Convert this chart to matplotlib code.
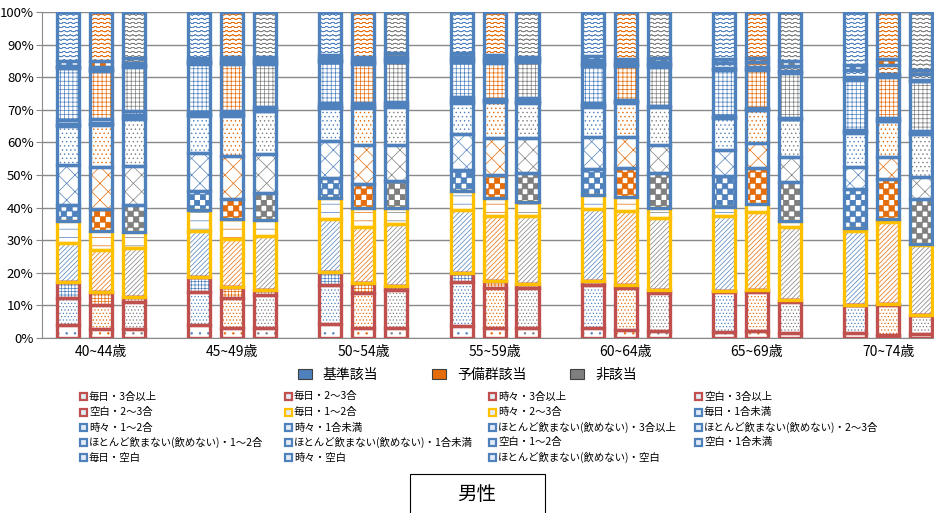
import numpy as np
import matplotlib
matplotlib.use('Agg')
import matplotlib.pyplot as plt
import matplotlib.hatch as mhatch
from matplotlib.path import Path
from matplotlib.patches import Rectangle
from matplotlib.ticker import PercentFormatter

plt.rcParams['font.family'] = ['Noto Sans CJK JP', 'DejaVu Sans']
plt.rcParams['hatch.linewidth'] = 0.5

# DATA

ages = ['40~44歳', '45~49歳', '50~54歳', '55~59歳', '60~64歳', '65~69歳', '70~74歳']
series_names = ['基準該当', '予備群該当', '非該当']
categories = ['毎日・3合以上', '毎日・2～3合', '時々・3合以上', '空白・3合以上',
              '空白・2～3合', '毎日・1～2合', '時々・2～3合', '毎日・1合未満',
              '時々・1～2合', '時々・1合未満', 'ほとんど飲まない(飲めない)・3合以上',
              'ほとんど飲まない(飲めない)・2～3合', 'ほとんど飲まない(飲めない)・1～2合',
              'ほとんど飲まない(飲めない)・1合未満', '空白・1～2合', '空白・1合未満',
              '毎日・空白', '時々・空白', 'ほとんど飲まない(飲めない)・空白']

# percent per category (rows = age groups)
kijun = [
    [4.1, 8.2, 5.0, 0, 0, 11.8, 6.9, 4.9, 12.2, 11.9, 0.3, 0.5, 1.2, 15.7, 0.2, 0.3, 0.4, 1.4, 15.0],
    [4.0, 10.1, 4.6, 0, 0, 14.2, 6.4, 5.8, 11.7, 11.2, 0.3, 0.4, 0.5, 14.8, 0.3, 0.3, 0.4, 0.8, 14.2],
    [4.2, 12.2, 3.8, 0, 0, 16.3, 6.6, 6.1, 11.2, 10.1, 0.3, 0.4, 0.8, 12.8, 0.3, 0.3, 0.5, 0.9, 13.2],
    [3.7, 13.5, 2.7, 0, 0, 19.4, 5.8, 6.6, 11.0, 9.3, 0.4, 0.5, 0.9, 11.0, 0.4, 0.5, 0.6, 1.0, 12.7],
    [3.0, 13.4, 1.0, 0, 0, 22.2, 4.3, 7.9, 9.8, 9.4, 0.3, 0.3, 0.4, 11.5, 0.5, 0.5, 0.8, 1.2, 13.5],
    [2.0, 12.0, 0.3, 0, 0, 23.0, 2.8, 9.7, 7.8, 9.9, 0.1, 0.1, 0.3, 14.2, 0.3, 0.3, 1.5, 1.2, 14.5],
    [1.5, 8.5, 0.2, 0, 0, 22.7, 1.0, 11.7, 7.0, 10.3, 0.2, 0.2, 0.6, 15.3, 0.4, 0.5, 2.0, 1.6, 16.3],
]
yobi = [
    [2.7, 7.5, 4.0, 0, 0, 12.9, 5.9, 6.6, 13.0, 12.9, 0.3, 0.5, 1.2, 14.7, 0.3, 0.3, 0.5, 1.8, 15.2],
    [3.2, 9.1, 3.3, 0, 0, 14.8, 6.1, 6.3, 13.2, 12.0, 0.3, 0.5, 0.7, 14.5, 0.3, 0.4, 0.5, 1.1, 13.7],
    [3.2, 10.7, 3.1, 0, 0, 17.2, 5.8, 7.2, 12.1, 11.2, 0.3, 0.4, 0.8, 12.2, 0.3, 0.3, 0.5, 1.0, 13.7],
    [3.0, 12.3, 2.3, 0, 0, 19.9, 5.6, 7.1, 11.5, 10.9, 0.3, 0.3, 0.4, 11.2, 0.4, 0.4, 0.5, 1.1, 13.2],
    [2.5, 12.9, 0.8, 0, 0, 22.9, 4.1, 8.9, 9.5, 10.5, 0.3, 0.3, 0.4, 10.5, 0.3, 0.4, 0.6, 0.8, 14.4],
    [2.2, 11.8, 0.7, 0, 0, 23.9, 2.5, 11.0, 7.8, 10.1, 0.1, 0.1, 0.3, 11.7, 0.4, 0.4, 1.8, 1.2, 14.0],
    [1.0, 9.0, 0.5, 0, 0, 25.2, 0.8, 12.2, 6.8, 11.0, 0.2, 0.2, 0.6, 12.7, 0.4, 0.4, 2.8, 1.8, 14.4],
]
higaitou = [
    [2.7, 8.5, 1.5, 0, 0, 15.0, 4.8, 8.4, 11.9, 14.5, 0.4, 0.6, 1.2, 13.7, 0.3, 0.4, 0.6, 1.3, 14.2],
    [3.2, 9.9, 1.5, 0, 0, 16.8, 4.8, 8.4, 11.9, 13.0, 0.3, 0.5, 0.7, 13.2, 0.3, 0.4, 0.5, 0.9, 13.7],
    [3.2, 11.4, 1.5, 0, 0, 18.9, 5.0, 8.2, 11.1, 11.7, 0.3, 0.4, 0.8, 12.3, 0.4, 0.4, 0.6, 1.3, 12.5],
    [3.2, 12.1, 1.3, 0, 0, 20.7, 4.3, 9.1, 10.7, 10.6, 0.3, 0.4, 0.8, 11.3, 0.3, 0.4, 0.5, 0.3, 13.7],
    [2.3, 11.7, 0.7, 0, 0, 22.4, 3.0, 10.7, 8.6, 11.7, 0.1, 0.2, 0.2, 12.1, 0.4, 0.4, 0.6, 1.2, 14.2],
    [1.5, 9.7, 0.5, 0, 0, 22.3, 1.8, 12.0, 7.6, 11.7, 0.1, 0.1, 0.2, 13.8, 0.3, 0.3, 1.7, 1.5, 14.9],
    [1.2, 5.8, 0.2, 0, 0, 21.2, 0.6, 13.7, 6.7, 13.1, 0.2, 0.2, 0.5, 15.3, 0.3, 0.3, 1.8, 1.0, 17.9],
]

# STYLE

series_cols = ['#4F81BD', '#E46C0A', '#7F7F7F']
RED, YEL, BLU = '#C0504D', '#FFC000', '#4F81BD'
border_cols = [RED] * 5 + [YEL] * 2 + [BLU] * 12
hatches = ['..', '.....', '+++++', '....', '....', '///////', '--', '***', 'xx', '....',
           '-----', '-----', '.....', '++++', '....', '....', 'oooo', '***', 'oooo']


# Excel-like patterns: 'o' -> wavy lines, '*' -> checkerboard

class WaveHatch(mhatch.HatchPatternBase):
    def __init__(self, hatch, density):
        self.num_rows = int(hatch.count('o') * density)
        self.num_pts = 16 * 6 + 1
        self.num_vertices = self.num_rows * (2 * self.num_pts - 1)

    def set_vertices_and_codes(self, vertices, codes):
        x = np.linspace(0, 1, self.num_pts)
        n = 2 * self.num_pts - 1
        for i in range(self.num_rows):
            y = (i + 0.5) / self.num_rows + 0.15 / self.num_rows * np.sin(2 * np.pi * 16 * x)
            xs = np.concatenate([x, x[-2::-1]])
            ys = np.concatenate([y, y[-2::-1]])
            vertices[i * n:(i + 1) * n, 0] = xs
            vertices[i * n:(i + 1) * n, 1] = ys
            codes[i * n:(i + 1) * n] = Path.LINETO
            codes[i * n] = Path.MOVETO


class CheckerHatch(mhatch.HatchPatternBase):
    def __init__(self, hatch, density):
        self.num_cells = int(hatch.count('*') * density / 2) * 2
        self.num_vertices = (self.num_cells ** 2 // 2) * 5

    def set_vertices_and_codes(self, vertices, codes):
        n = self.num_cells
        s = 1.0 / n
        k = 0
        for i in range(n):
            for j in range(n):
                if (i + j) % 2 == 0:
                    x0, y0 = i * s, j * s
                    vertices[k:k + 5] = [[x0, y0], [x0 + s, y0], [x0 + s, y0 + s], [x0, y0 + s], [x0, y0]]
                    codes[k:k + 5] = [Path.MOVETO, Path.LINETO, Path.LINETO, Path.LINETO, Path.CLOSEPOLY]
                    k += 5


mhatch._hatch_types[mhatch._hatch_types.index(mhatch.SmallCircles)] = WaveHatch
mhatch._hatch_types[mhatch._hatch_types.index(mhatch.Stars)] = CheckerHatch

# PLOT

fig = plt.figure(figsize=(9.34, 5.13), dpi=100)
ax = fig.add_axes([0.045, 0.341, 0.955, 0.6355])

x = np.arange(len(ages))
width = 0.168
offset = 0.251

for s, vals in enumerate([kijun, yobi, higaitou]):
    arr = np.array(vals, dtype=float)
    arr = arr / arr.sum(axis=1, keepdims=True) * 100
    xpos = x + (s - 1) * offset
    bottoms = np.hstack([np.zeros((len(ages), 1)), np.cumsum(arr, axis=1)[:, :-1]])
    for k in range(len(categories)):
        ax.bar(xpos, arr[:, k], width, bottom=bottoms[:, k], color='white',
               edgecolor=series_cols[s], hatch=hatches[k], linewidth=0, zorder=2)
    for k in range(len(categories)):
        ax.bar(xpos, arr[:, k], width, bottom=bottoms[:, k], fill=False,
               edgecolor=border_cols[k], linewidth=2.4, zorder=3)

ax.set_xlim(-0.45, 6.35)
ax.set_ylim(0, 100)
ax.set_yticks(np.arange(0, 101, 10))
ax.yaxis.set_major_formatter(PercentFormatter(decimals=0))
ax.set_xticks(x)
ax.set_xticklabels(ages, fontsize=10)
ax.tick_params(axis='x', length=0, pad=5)
ax.tick_params(axis='y', length=4, color='#898989', labelsize=9.5, pad=2)
ax.grid(axis='y', color='#898989', linewidth=1.0, zorder=0)
ax.set_axisbelow(True)
for side in ['top', 'right']:
    ax.spines[side].set_visible(False)
for side in ['left', 'bottom']:
    ax.spines[side].set_color('#898989')

# series legend
W, H = 934.0, 513.0
for name, col, px in zip(series_names, series_cols, [298, 432, 570]):
    fig.patches.append(Rectangle((px / W, 1 - 379 / H), 14 / W, 10 / H, transform=fig.transFigure,
                                 facecolor=col, edgecolor='#404040', linewidth=0.8))
    fig.text((px + 25) / W, 1 - 375 / H, name, fontsize=10, va='center', ha='left')

# category legend (row-major, 4 columns)
col_x = [80, 285, 489, 695]
row_y = [396.5, 412, 427.5, 442.5, 457.5]
for i, lab in enumerate(categories):
    cx = col_x[i % 4]
    cy = row_y[i // 4]
    fig.patches.append(Rectangle((cx / W, 1 - (cy + 3.5) / H), 7 / W, 7 / H, transform=fig.transFigure,
                                 facecolor='#E3ECF6', edgecolor=border_cols[i], linewidth=1.6))
    fig.text((cx + 9) / W, 1 - cy / H, lab, fontsize=7.5, va='center', ha='left')

# title box
fig.patches.append(Rectangle((410 / W, -0.02), 135 / W, (513 - 474) / H + 0.02, transform=fig.transFigure,
                             facecolor='white', edgecolor='black', linewidth=0.8))
fig.text(477 / W, 1 - 494 / H, '男性', fontsize=14, ha='center', va='center')

plt.savefig('out.png', dpi=100)
